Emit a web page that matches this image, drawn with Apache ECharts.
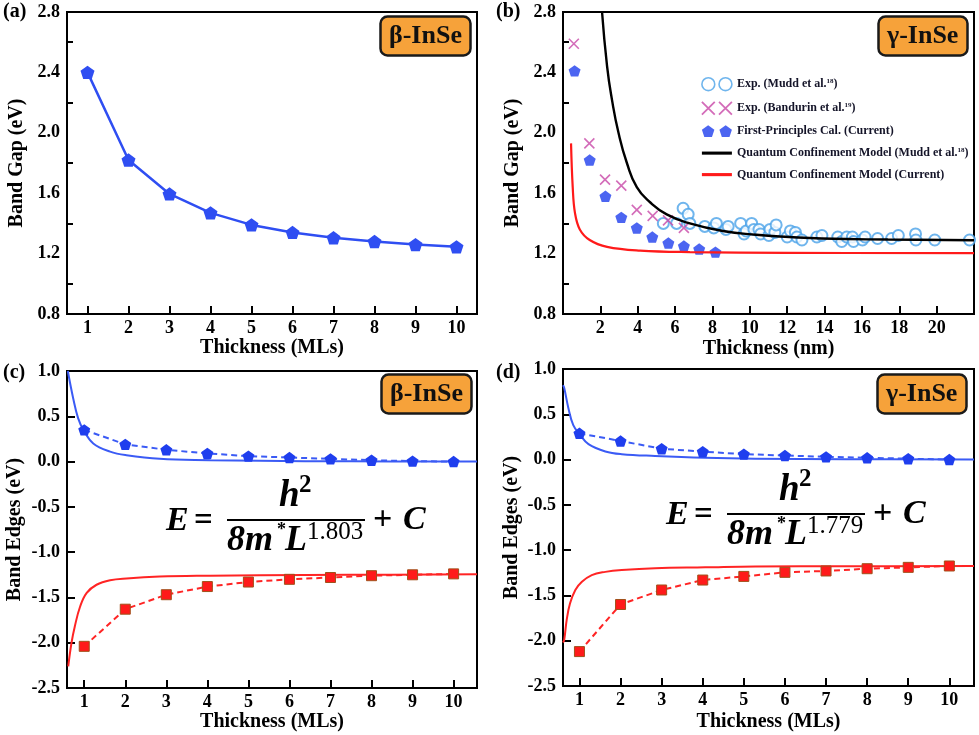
<!DOCTYPE html>
<html><head><meta charset="utf-8">
<script src="https://cdn.jsdelivr.net/npm/echarts@6/dist/echarts.min.js"></script>
<style>html,body{margin:0;padding:0;background:#fff}#c{width:979px;height:735px}</style>
</head><body><div id="c"></div>
<script>
// ---------- data ----------
const mlTicks = [1,2,3,4,5,6,7,8,9,10];
const nmTicks = [2,4,6,8,10,12,14,16,18,20];
const gapMinorTicks = [1.0,1.4,1.8,2.2,2.6];

// (a) beta-InSe band gap
const aML = [1,2,3,4,5,6,7,8,9,10];
const aGap = [2.40,1.82,1.595,1.47,1.39,1.34,1.305,1.28,1.26,1.245];

// (b) gamma-InSe band gap vs nm
const muddX = [5.37,6.08,6.43,6.70,6.79,7.59,8.07,8.21,8.72,8.84,9.51,9.69,9.81,10.10,10.22,10.49,10.58,11.02,11.08,11.34,11.41,12.00,12.17,12.44,12.52,12.79,13.59,13.86,14.71,14.92,15.19,15.49,15.55,16.03,16.17,16.84,17.59,17.95,18.87,18.89,19.90,21.76];
const muddY = [1.40,1.40,1.50,1.46,1.40,1.38,1.37,1.40,1.36,1.38,1.40,1.33,1.35,1.40,1.36,1.36,1.33,1.32,1.36,1.34,1.39,1.31,1.35,1.34,1.31,1.29,1.31,1.32,1.31,1.28,1.31,1.31,1.28,1.29,1.31,1.30,1.30,1.32,1.33,1.29,1.29,1.29];
const bandX = [0.58,1.41,2.25,3.12,3.95,4.80,5.62,6.47];
const bandY = [2.59,1.93,1.69,1.65,1.49,1.45,1.42,1.37];
const fpX = [0.62,1.43,2.27,3.12,3.95,4.78,5.64,6.47,7.29,8.16];
const fpY = [2.41,1.82,1.58,1.44,1.37,1.31,1.27,1.25,1.23,1.21];
const qcMuddX = [2.09,2.36,2.62,2.97,3.42,3.95,4.66,5.55,6.79,8.56,10.34,12.12,13.86,17.4,22];
const qcMuddY = [2.80,2.44,2.22,2.00,1.80,1.64,1.54,1.46,1.40,1.35,1.325,1.31,1.30,1.293,1.288];
const qcCurX = [0.43,0.52,0.64,0.90,1.43,2.36,4.13,6.79,12,22];
const qcCurY = [1.93,1.64,1.47,1.36,1.29,1.245,1.22,1.21,1.205,1.203];

// (c) beta-InSe band edges
const cVBM = [0.35,0.19,0.13,0.09,0.06,0.045,0.03,0.015,0.005,0.0];
const cCBM = [-2.04,-1.63,-1.47,-1.38,-1.33,-1.30,-1.28,-1.26,-1.25,-1.24];
const cFitVX = [0.6,0.73,0.85,0.98,1.22,1.63,2.03,2.84,4.06,5.27,7.5,10.57];
const cFitVY = [1.0,0.70,0.48,0.35,0.20,0.11,0.07,0.03,0.015,0.008,0.003,0.0];
const cFitCX = [0.61,0.69,0.77,0.90,1.06,1.30,1.63,2.03,2.84,4.06,5.27,7.5,10.57];
const cFitCY = [-2.26,-2.0,-1.82,-1.60,-1.45,-1.36,-1.31,-1.29,-1.27,-1.26,-1.255,-1.25,-1.245];

// (d) gamma-InSe band edges
const dVBM = [0.29,0.205,0.12,0.087,0.06,0.045,0.03,0.02,0.01,0.0];
const dCBM = [-2.12,-1.60,-1.44,-1.33,-1.29,-1.245,-1.23,-1.205,-1.19,-1.175];
const dFitVX = [0.6,0.63,0.73,0.85,1.02,1.22,1.63,2.03,2.84,4.06,5.28,7.5,10.6];
const dFitVY = [0.82,0.79,0.57,0.38,0.27,0.17,0.09,0.06,0.04,0.02,0.01,0.004,0.0];
const dFitCX = [0.6,0.63,0.69,0.77,0.90,1.06,1.30,1.63,2.03,2.84,4.06,5.28,7.5,10.6];
const dFitCY = [-2.02,-1.99,-1.77,-1.59,-1.44,-1.35,-1.275,-1.24,-1.22,-1.20,-1.19,-1.18,-1.178,-1.175];

// ---------- chart ----------
const F = 'Liberation Serif';
const zip = (xs, ys) => xs.map((x,i)=>[x, ys[i]]);
const PENT = 'path://M6,0.3L11.7,4.45L9.5,11.15L2.5,11.15L0.3,4.45Z';
const CROSS = 'path://M0,0L10,10M10,0L0,10';
const BLUE = '#2F4EF2', RED = '#FF2424';

const grids = [
  {left:67, top:12, width:410, height:302},
  {left:563, top:12, width:411, height:302},
  {left:67, top:371, width:410, height:317},
  {left:563, top:369, width:411, height:317}
].map(g => Object.assign(g, {show:true, borderColor:'#000', borderWidth:2, containLabel:false, outerBoundsMode:'none'}));

const nameStyle = {fontFamily:F, fontWeight:'bold', fontSize:20, color:'#000'};
const lblStyle = {fontFamily:F, fontWeight:'bold', fontSize:18, color:'#000'};

function xAx(gi, min, max, ticks, name, gap) {
  return {type:'value', gridIndex:gi, min, max, name, nameLocation:'middle', nameGap:gap,
    nameTextStyle:nameStyle,
    axisLine:{show:true, onZero:false, lineStyle:{color:'#000', width:2}},
    axisTick:{show:true, inside:true, length:8, customValues:ticks, lineStyle:{color:'#000', width:2}},
    axisLabel:Object.assign({customValues:ticks, margin:5}, lblStyle),
    splitLine:{show:false}};
}
function yAx(gi, min, max, interval, ticks, tickLen, name, gap) {
  const tick = {show:true, inside:true, length:tickLen, lineStyle:{color:'#000', width:2}};
  if (ticks) tick.customValues = ticks;
  return {type:'value', gridIndex:gi, min, max, interval, name, nameLocation:'middle', nameGap:gap,
    nameTextStyle:nameStyle,
    axisLine:{show:true, onZero:false, lineStyle:{color:'#000', width:2}},
    axisTick:tick,
    axisLabel:Object.assign({margin:7, formatter:v=>v.toFixed(1)}, lblStyle),
    splitLine:{show:false}};
}

const legendLabels = {
  'Exp. (Mudd et al.18)': '{t|Exp. (Mudd et al.}{s|18}{t|)}',
  'Exp. (Bandurin et al.19)': '{t|Exp. (Bandurin et al.}{s|19}{t|)}',
  'First-Principles Cal. (Current)': '{t|First-Principles Cal. (Current)}',
  'Quantum Confinement Model (Mudd et al.18)': '{t|Quantum Confinement Model (Mudd et al.}{s|18}{t|)}',
  'Quantum Confinement Model (Current)': '{t|Quantum Confinement Model (Current)}'
};

function box(text, left, top) {
  return {text, left, top, padding:[6,9], backgroundColor:'#F6A23A', borderColor:'#1a1a1a', borderWidth:2.5, borderRadius:7,
    textStyle:{fontFamily:F, fontWeight:'bold', fontSize:26, lineHeight:28, color:'#111'}};
}

function eqn(x0, y0, ex) {
  const t = (text, x, y, size, weight, style, align) => ({type:'text', x, y, z:50,
    style:{text, fontFamily:F, fontSize:size, fontWeight:weight, fontStyle:style, fill:'#000', verticalAlign:'middle', align:align||'left'}});
  return [
    t('E', x0-61, y0+1, 34, 'bold', 'italic'),
    t('=', x0-33, y0+1, 33, 'bold', 'normal'),
    t('h', x0+52, y0-24, 37, 'bold', 'italic'),
    t('2', x0+72, y0-34, 25, 'bold', 'normal'),
    {type:'line', z:50, shape:{x1:x0, y1:y0, x2:x0+138, y2:y0}, style:{stroke:'#000', lineWidth:2.2}},
    t('8m', x0, y0+21, 36, 'bold', 'italic'),
    t('*', x0+50, y0+10, 18, 'bold', 'normal'),
    t('L', x0+58, y0+21, 36, 'bold', 'italic'),
    t(ex, x0+80, y0+12, 25, 'normal', 'normal'),
    t('+', x0+146, y0, 34, 'bold', 'normal'),
    t('C', x0+176, y0, 34, 'bold', 'italic')
  ];
}
const panelLbl = (text, x, y) => ({type:'text', x, y, style:{text, fontFamily:F, fontWeight:'bold', fontSize:20, fill:'#000', verticalAlign:'middle'}});

const option = {
  backgroundColor:'#fff',
  animation:false,
  grid: grids,
  title: [box('β-InSe',380,16), box('γ-InSe',878,16), box('β-InSe',381,374), box('γ-InSe',877,374)],
  xAxis: [
    xAx(0, 0.5, 10.5, mlTicks, 'Thickness (MLs)', 24),
    xAx(1, 0, 22, nmTicks, 'Thickness (nm)', 25),
    xAx(2, 0.58, 10.57, mlTicks, 'Thickness (MLs)', 24),
    xAx(3, 0.6, 10.6, mlTicks, 'Thickness (MLs)', 26)
  ],
  yAxis: [
    yAx(0, 0.8, 2.8, 0.4, gapMinorTicks, 6, 'Band Gap (eV)', 40),
    yAx(1, 0.8, 2.8, 0.4, gapMinorTicks, 6, 'Band Gap (eV)', 40),
    yAx(2, -2.5, 1.0, 0.5, null, 8, 'Band Edges (eV)', 42),
    yAx(3, -2.5, 1.0, 0.5, null, 8, 'Band Edges (eV)', 41)
  ],
  legend: {
    orient:'vertical', left:696, top:72, itemWidth:30, itemHeight:13, itemGap:9.5,
    selectedMode:false,
    textStyle:{fontFamily:F, fontWeight:'bold', fontSize:12, color:'#141428',
      rich:{t:{fontFamily:F, fontWeight:'bold', fontSize:12, color:'#141428'},
            s:{fontFamily:F, fontWeight:'bold', fontSize:7, color:'#141428', padding:[0,0,6,0]}}},
    formatter: n => legendLabels[n],
    data: [
      {name:'Exp. (Mudd et al.18)', icon:'path://M0,6a6,6 0 1,0 12,0a6,6 0 1,0 -12,0M16,6a6,6 0 1,0 12,0a6,6 0 1,0 -12,0', itemStyle:{color:'rgba(0,0,0,0)', borderColor:'#4BA3E8', borderWidth:1.6}},
      {name:'Exp. (Bandurin et al.19)', icon:'path://M0,0L12,12M12,0L0,12M16,0L28,12M28,0L16,12', itemStyle:{color:'rgba(0,0,0,0)', borderColor:'#C847A8', borderWidth:1.8}},
      {name:'First-Principles Cal. (Current)', icon:'path://M6,0.3L11.7,4.45L9.5,11.15L2.5,11.15L0.3,4.45ZM22,0.3L27.7,4.45L25.5,11.15L18.5,11.15L16.3,4.45Z', itemStyle:{color:'#1F3EEE', borderWidth:0}},
      {name:'Quantum Confinement Model (Mudd et al.18)', icon:'path://M0,0L29,0L29,3L0,3Z', itemStyle:{color:'#000', borderWidth:0}},
      {name:'Quantum Confinement Model (Current)', icon:'path://M0,0L29,0L29,3L0,3Z', itemStyle:{color:'#FF1A1A', borderWidth:0}}
    ]
  },
  series: [
    // (a)
    {type:'line', name:'a-gap', xAxisIndex:0, yAxisIndex:0, data:zip(aML,aGap), symbol:PENT, symbolSize:14, symbolKeepAspect:true,
      lineStyle:{color:BLUE, width:2.5}, itemStyle:{color:BLUE}},
    // (b)
    {type:'line', name:'Quantum Confinement Model (Current)', xAxisIndex:1, yAxisIndex:1, data:zip(qcCurX,qcCurY), smooth:0.4, showSymbol:false, symbol:'none',
      lineStyle:{color:'#FF1A1A', width:2.2}, itemStyle:{color:'#FF1A1A'}},
    {type:'scatter', name:'Exp. (Mudd et al.18)', xAxisIndex:1, yAxisIndex:1, data:zip(muddX,muddY), symbol:'emptyCircle', symbolSize:11,
      itemStyle:{color:'#4BA3E8', borderColor:'#4BA3E8', borderWidth:1.4}},
    {type:'line', name:'Quantum Confinement Model (Mudd et al.18)', xAxisIndex:1, yAxisIndex:1, data:zip(qcMuddX,qcMuddY), smooth:0.5, showSymbol:false, symbol:'none',
      lineStyle:{color:'#000', width:2.4}, itemStyle:{color:'#000'}},
    {type:'scatter', name:'Exp. (Bandurin et al.19)', xAxisIndex:1, yAxisIndex:1, data:zip(bandX,bandY), symbol:CROSS, symbolSize:10,
      itemStyle:{color:'#C847A8', borderColor:'#C847A8', borderWidth:1.6}},
    {type:'scatter', name:'First-Principles Cal. (Current)', xAxisIndex:1, yAxisIndex:1, data:zip(fpX,fpY), symbol:PENT, symbolSize:12, symbolKeepAspect:true,
      itemStyle:{color:'#1F3EEE'}},
    // (c)
    {type:'line', name:'c-fitV', xAxisIndex:2, yAxisIndex:2, data:zip(cFitVX,cFitVY), smooth:0.4, symbol:'none', lineStyle:{color:'#3B5BF5', width:2}},
    {type:'line', name:'c-fitC', xAxisIndex:2, yAxisIndex:2, data:zip(cFitCX,cFitCY), smooth:0.4, symbol:'none', lineStyle:{color:RED, width:2}},
    {type:'line', name:'c-vbm', xAxisIndex:2, yAxisIndex:2, data:zip(aML,cVBM), symbol:PENT, symbolSize:12, symbolKeepAspect:true,
      lineStyle:{color:'#3B5BF5', width:2, type:[6,4]}, itemStyle:{color:'#1F3EEE'}},
    {type:'line', name:'c-cbm', xAxisIndex:2, yAxisIndex:2, data:zip(aML,cCBM), symbol:'rect', symbolSize:10,
      lineStyle:{color:RED, width:2, type:[6,4]}, itemStyle:{color:'#FF1A1A', borderColor:'#A0501A', borderWidth:1}},
    // (d)
    {type:'line', name:'d-fitV', xAxisIndex:3, yAxisIndex:3, data:zip(dFitVX,dFitVY), smooth:0.4, symbol:'none', lineStyle:{color:'#3B5BF5', width:2}},
    {type:'line', name:'d-fitC', xAxisIndex:3, yAxisIndex:3, data:zip(dFitCX,dFitCY), smooth:0.4, symbol:'none', lineStyle:{color:RED, width:2}},
    {type:'line', name:'d-vbm', xAxisIndex:3, yAxisIndex:3, data:zip(aML,dVBM), symbol:PENT, symbolSize:12, symbolKeepAspect:true,
      lineStyle:{color:'#3B5BF5', width:2, type:[6,4]}, itemStyle:{color:'#1F3EEE'}},
    {type:'line', name:'d-cbm', xAxisIndex:3, yAxisIndex:3, data:zip(aML,dCBM), symbol:'rect', symbolSize:10,
      lineStyle:{color:RED, width:2, type:[6,4]}, itemStyle:{color:'#FF1A1A', borderColor:'#A0501A', borderWidth:1}}
  ],
  graphic: [
    panelLbl('(a)', 3, 12), panelLbl('(b)', 496, 12), panelLbl('(c)', 3, 373), panelLbl('(d)', 496, 373),
    ...eqn(227, 520, '1.803'),
    ...eqn(727, 514, '1.779')
  ]
};
const chart = echarts.init(document.getElementById('c'));
chart.setOption(option);
</script>
</body></html>
